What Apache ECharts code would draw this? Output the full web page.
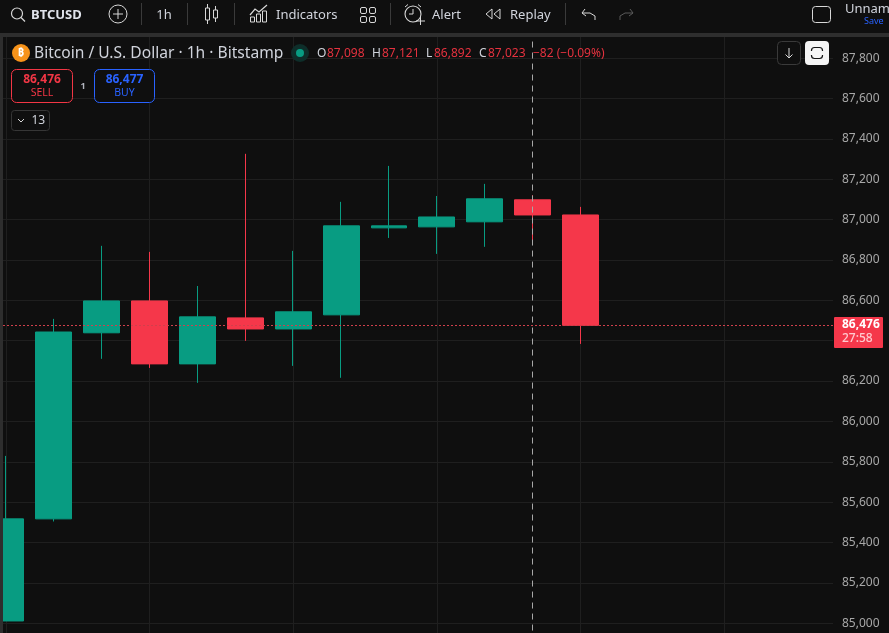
<!DOCTYPE html>
<html><head><meta charset="utf-8">
<style>html,body{margin:0;padding:0;background:#0f0f0f}#c{width:889px;height:633px}</style>
<script src="https://cdn.jsdelivr.net/npm/echarts@6/dist/echarts.min.js"></script>
</head><body><div id="c"></div>
<script>
const candleIndex=[0,1,2,3,4,5,6,7,8,9,10,11,12];
const opens =[85011,85517,86439,86597,86285,86513,86458,86528,86959,86964,86989,87098,87023];
const closes=[85517,86443,86597,86285,86518,86458,86543,86969,86969,87013,87103,87023,86476];
const lows  =[85011,85504,86310,86265,86191,86399,86275,86216,86909,86830,86865,86892,86384];
const highs =[85829,86508,86870,86840,86671,87326,86845,87088,87266,87117,87177,87121,87063];
const gridCandles=[0,3,6,9,12,15];
const lastPrice=86476, crosshairCandle=11;
const UP='#089c82',DOWN='#f5374a',BG='#0f0f0f',FG='#d1d4dc',MUTED='#b2b5be';
const FONT='"Noto Sans",sans-serif';

const g=[];
const T=(x,y,text,size,fill,o={})=>g.push({type:'text',z:50,silent:true,style:{x,y,text,fill,font:`${o.weight||'normal'} ${size}px ${FONT}`,align:o.align||'left',verticalAlign:'middle'}});
const R=(x,y,w,h,st,r=0)=>g.push({type:'rect',z:o2(st),silent:true,shape:{x,y,width:w,height:h,r},style:st});
function o2(st){const z=st.z||40;delete st.z;return z}
const L=(x1,y1,x2,y2,stroke,w=1)=>g.push({type:'line',z:50,silent:true,shape:{x1,y1,x2,y2},style:{stroke,lineWidth:w}});
const C=(cx,cy,r,st)=>g.push({type:'circle',z:50,silent:true,shape:{cx,cy,r},style:st});
const P=(points,stroke,w=1.2)=>g.push({type:'polyline',z:50,silent:true,shape:{points},style:{stroke,lineWidth:w,fill:null}});

// toolbar and frame
R(0,0,889,33,{fill:BG});
R(0,33,889,4,{fill:'#2e2e2e'});
R(0,37,3,596,{fill:'#2e2e2e'});
const ic='#d8d8d8',sep='#3a3a3a';
C(17,13.5,5.5,{fill:null,stroke:ic,lineWidth:1.2});L(21,17.5,25,21.5,ic,1.3);
T(31,15,'BTCUSD',13,'#e0e3eb',{weight:'bold'});
C(118,14,9,{fill:null,stroke:ic,lineWidth:1});L(113,14,123,14,ic);L(118,9,118,19,ic);
L(141.5,3,141.5,25,sep);
T(164,15,'1h',13,FG,{align:'center'});
L(187.5,3,187.5,25,sep);
L(207.5,4,207.5,24,ic);R(205.5,8,4,12,{fill:BG,stroke:ic,z:50});
L(215.5,6,215.5,22,ic);R(213.5,10,4,8,{fill:BG,stroke:ic,z:50});
L(234.5,3,234.5,25,sep);
P([[250,15],[255,9],[259,12],[267,5]],ic);
R(250.5,17,4,5,{fill:BG,stroke:ic,z:50});R(256.5,14,4,8,{fill:BG,stroke:ic,z:50});R(262.5,11,4,11,{fill:BG,stroke:ic,z:50});
T(276,15,'Indicators',13,FG);
[[360,7],[369,7],[360,16],[369,16]].forEach(p=>R(p[0]+.5,p[1]+.5,6,6,{fill:BG,stroke:ic,z:50},1.5));
L(390.5,3,390.5,25,sep);
C(413,14,8,{fill:null,stroke:ic,lineWidth:1.1});P([[413,9],[413,14],[409,14]],ic,1);
L(405,7,408,4.5,ic);L(421,7,418,4.5,ic);R(416,15,9,9,{fill:BG,z:49});L(416,21,425,21,ic);L(420.5,17,420.5,25,ic);
T(432,15,'Alert',13,FG);
P([[492,9],[486,14],[492,19],[492,9]],ic,1);P([[500,9],[494,14],[500,19],[500,9]],ic,1);
T(510,15,'Replay',13,FG);
L(565.5,3,565.5,25,sep);
P([[585,9],[582,13],[586,16]],ic,1);P([[582,13],[590,13],[595,16],[595,20]],ic,1);
P([[630,9],[633,13],[629,16]],'#5a5a5a',1);P([[633,13],[625,13],[620,16],[620,20]],'#5a5a5a',1);
R(812.5,6.5,18,16,{fill:null,stroke:ic,z:50},3);
T(845,9,'Unnam',13,FG);
T(864,21,'Save',9,'#2962ff');

// legend
C(21,53,9,{fill:'#f7931a'});
T(21,53,'₿',11,'#fff',{align:'center',weight:'bold'});
T(34,54,'Bitcoin / U.S. Dollar · 1h · Bitstamp',15.6,FG);
C(300,53,9,{fill:'#0e2e2a'});C(300,53,4,{fill:UP});
const red='#e5323f';
T(317,54,'O',12,FG);T(327,54,'87,098',12,red);
T(372,54,'H',12,FG);T(382,54,'87,121',12,red);
T(426,54,'L',12,FG);T(434,54,'86,892',12,red);
T(479,54,'C',12,FG);T(488,54,'87,023',12,red);
T(533,54,'−82 (−0.09%)',12,red);
// trade buttons
R(11.5,69.5,61,33,{fill:BG,stroke:'#f23645',z:45},5);
T(42,80,'86,476',12,'#f23645',{align:'center',weight:'bold'});
T(42,93,'SELL',10.5,'#f23645',{align:'center'});
T(83,86,'1',9,MUTED,{align:'center',weight:'bold'});
R(94.5,69.5,60,33,{fill:BG,stroke:'#2962ff',z:45},5);
T(124.5,80,'86,477',12,'#2962ff',{align:'center',weight:'bold'});
T(124.5,93,'BUY',10.5,'#2962ff',{align:'center'});
R(11.5,110.5,38,20,{fill:BG,stroke:'#363636',z:45},3);
P([[18,119],[21,122],[24,119]],ic,1);
T(31.5,120.5,'13',12,FG);
// top right buttons
R(777.5,41.5,23,23,{fill:BG,stroke:'#3a3a3a',z:45},4);
L(789,48,789,58,ic);P([[785.5,54.5],[789,58],[792.5,54.5]],ic,1);
R(805,41,24,24,{fill:'#f5f5f5',z:45},4);
R(811.5,47.5,11,11,{fill:'#f5f5f5',stroke:'#131313',lineWidth:1.2,z:50},3);
R(808,51,18,4,{fill:'#f5f5f5',z:50});
// price label
R(834,317,49,31,{fill:DOWN,z:45},1);
T(842,325,'86,476',12,'#fff',{weight:'bold'});
T(842,339,'27:58',12,'#ffc9ce',{weight:500});

const rows=candleIndex.map((x,i)=>[x,opens[i],closes[i],lows[i],highs[i]]);
const chart=echarts.init(document.getElementById('c'));
chart.setOption({
 animation:false,backgroundColor:BG,
 grid:{left:3,width:830,top:17.8,height:645.76,containLabel:false,outerBoundsMode:'none'},
 xAxis:{type:'value',min:-0.05846,max:17.269,axisLine:{show:false},axisLabel:{show:false},
   axisTick:{show:false,customValues:gridCandles},
   splitLine:{show:true,lineStyle:{color:'#1f1f1f',width:1}}},
 yAxis:{type:'value',position:'right',min:84800,max:88000,interval:200,scale:true,
   axisLine:{show:false},axisTick:{show:false},
   axisLabel:{color:'#a8a8a8',fontFamily:FONT,fontSize:12,margin:9,showMinLabel:false,showMaxLabel:false,
     formatter:v=>v.toLocaleString('en-US')},
   splitLine:{show:true,lineStyle:{color:'#1f1f1f',width:1}}},
 series:[{type:'candlestick',barWidth:36.4,encode:{x:0,y:[1,2,3,4]},data:rows,
   itemStyle:{color:UP,color0:DOWN,borderColor:UP,borderColor0:DOWN,borderWidth:1},
   markLine:{silent:true,symbol:'none',animation:false,label:{show:false},data:[
     {yAxis:lastPrice,lineStyle:{color:'#d0404c',type:[2,2],width:1}},
     {xAxis:crosshairCandle,lineStyle:{color:'#a8a8a8',type:[6,5],width:1}}]}}],
 graphic:{elements:g}
});
</script></body></html>
